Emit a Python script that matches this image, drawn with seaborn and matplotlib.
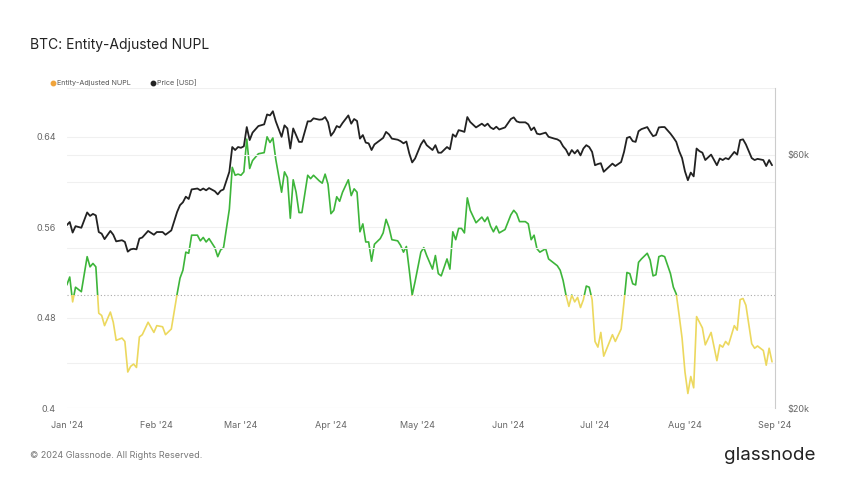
import pandas as pd
import matplotlib.pyplot as plt
import matplotlib.dates as mdates
import matplotlib.transforms as mtransforms
from matplotlib.patches import Rectangle
from matplotlib.lines import Line2D
from matplotlib.ticker import NullLocator
import seaborn as sns

# Datos (dias desde el 1 de enero de 2024)
days = [0, 1, 2, 3, 5, 7, 8, 9, 10, 11, 12, 13, 15, 16, 17, 19, 20, 21, 22, 23,
        24, 25, 26, 28, 30, 31, 33, 34, 36, 38, 39, 40, 41, 42, 43, 45, 46, 47, 48, 49,
        51, 52, 53, 54, 56, 57, 58, 59, 60, 61, 62, 63, 64, 66, 68, 69, 70, 71, 72, 74,
        75, 76, 77, 78, 79, 80, 81, 83, 84, 85, 87, 88, 89, 90, 91, 92, 93, 94, 95, 97,
        98, 99, 100, 101, 102, 103, 104, 105, 106, 108, 109, 110, 111, 112, 114, 115, 116, 117, 118, 119,
        120, 122, 123, 124, 126, 127, 128, 129, 131, 132, 133, 134, 135, 136, 137, 138, 139, 141, 143, 144,
        145, 146, 147, 148, 149, 151, 153, 154, 155, 156, 158, 159, 160, 161, 162, 163, 165, 166, 168, 169,
        170, 171, 172, 173, 174, 175, 176, 177, 178, 179, 180, 181, 182, 183, 184, 185, 188, 189, 191, 192,
        193, 194, 195, 196, 197, 198, 200, 201, 202, 203, 204, 205, 206, 208, 209, 210, 211, 212, 213, 214,
        215, 216, 217, 218, 219, 220, 222, 224, 225, 226, 227, 228, 230, 231, 232, 233, 234, 236, 237, 238,
        240, 241, 242, 243]

nupl = [0.509, 0.516, 0.494, 0.507, 0.503, 0.534, 0.525, 0.528, 0.525, 0.484, 0.482, 0.473, 0.485, 0.476, 0.460, 0.462, 0.459, 0.432, 0.437, 0.439,
        0.436, 0.463, 0.465, 0.476, 0.467, 0.473, 0.472, 0.465, 0.470, 0.501, 0.515, 0.522, 0.538, 0.537, 0.553, 0.553, 0.548, 0.551, 0.547, 0.550,
        0.542, 0.534, 0.540, 0.542, 0.576, 0.613, 0.606, 0.607, 0.606, 0.609, 0.638, 0.612, 0.619, 0.625, 0.626, 0.640, 0.635, 0.639, 0.620, 0.591,
        0.609, 0.604, 0.568, 0.602, 0.591, 0.573, 0.573, 0.606, 0.603, 0.606, 0.601, 0.599, 0.607, 0.598, 0.572, 0.575, 0.587, 0.583, 0.591, 0.602,
        0.588, 0.594, 0.591, 0.556, 0.563, 0.547, 0.547, 0.530, 0.545, 0.550, 0.555, 0.567, 0.560, 0.549, 0.548, 0.544, 0.538, 0.543, 0.522, 0.500,
        0.512, 0.538, 0.542, 0.535, 0.523, 0.535, 0.519, 0.517, 0.532, 0.523, 0.556, 0.549, 0.559, 0.559, 0.555, 0.586, 0.575, 0.564, 0.569, 0.565,
        0.569, 0.561, 0.556, 0.561, 0.555, 0.558, 0.571, 0.575, 0.572, 0.565, 0.565, 0.563, 0.549, 0.553, 0.541, 0.538, 0.541, 0.532, 0.528, 0.526,
        0.522, 0.513, 0.500, 0.490, 0.500, 0.494, 0.498, 0.489, 0.496, 0.508, 0.507, 0.496, 0.459, 0.454, 0.467, 0.446, 0.465, 0.459, 0.470, 0.494,
        0.520, 0.519, 0.510, 0.509, 0.529, 0.532, 0.537, 0.531, 0.517, 0.518, 0.534, 0.535, 0.534, 0.519, 0.507, 0.501, 0.482, 0.462, 0.432, 0.413,
        0.428, 0.418, 0.481, 0.476, 0.471, 0.456, 0.467, 0.442, 0.456, 0.454, 0.459, 0.456, 0.473, 0.469, 0.496, 0.497, 0.491, 0.457, 0.453, 0.455,
        0.451, 0.438, 0.453, 0.441]

# Precio en miles de USD
price_k = [44.2, 44.8, 42.8, 44.0, 43.7, 46.7, 46.0, 46.4, 46.1, 42.9, 42.6, 41.6, 43.1, 42.4, 41.2, 41.4, 41.1, 39.4, 39.8, 39.9,
           39.8, 41.7, 41.9, 43.1, 42.4, 42.9, 42.9, 42.4, 43.2, 46.8, 48.2, 48.8, 50.0, 49.5, 51.6, 51.8, 51.4, 51.8, 51.4, 51.9,
           51.2, 50.5, 51.3, 51.6, 55.7, 62.0, 61.2, 62.0, 61.8, 62.2, 67.6, 63.9, 66.0, 67.9, 68.4, 71.4, 71.1, 72.4, 69.3, 64.8,
           68.1, 67.2, 61.6, 67.2, 65.3, 63.4, 63.4, 69.3, 69.3, 70.2, 69.8, 69.9, 70.6, 69.0, 65.1, 66.2, 67.9, 67.5, 68.8, 71.1,
           68.6, 70.0, 69.4, 64.3, 65.3, 63.2, 63.0, 61.2, 62.7, 63.9, 64.5, 66.2, 65.5, 64.3, 64.0, 63.6, 63.0, 63.5, 60.3, 58.0,
           59.0, 62.7, 63.9, 62.5, 61.2, 62.5, 60.5, 60.5, 62.0, 61.4, 65.5, 64.8, 66.7, 66.5, 66.2, 70.6, 69.1, 67.5, 68.6, 67.9,
           68.6, 67.5, 67.0, 67.7, 66.9, 67.5, 70.0, 70.5, 69.3, 69.0, 69.0, 68.4, 66.7, 67.5, 65.7, 65.5, 66.0, 64.8, 64.3, 64.1,
           63.6, 62.2, 61.3, 59.8, 61.2, 60.3, 61.2, 59.8, 61.6, 62.5, 62.0, 60.7, 57.3, 57.6, 57.8, 55.7, 57.7, 57.1, 58.1, 60.7,
           64.5, 64.8, 63.6, 63.4, 66.4, 67.0, 67.6, 66.2, 65.0, 65.3, 67.5, 67.6, 67.6, 65.7, 64.6, 63.4, 60.9, 59.1, 55.8, 53.7,
           55.5, 54.6, 61.6, 60.9, 60.5, 58.6, 60.0, 57.3, 59.0, 58.6, 59.1, 58.8, 60.7, 60.0, 63.9, 64.1, 62.7, 59.1, 58.6, 58.9,
           58.6, 57.1, 58.6, 57.3]

sns.set_style("white")
plt.rcParams['font.family'] = ['Inter', 'DejaVu Sans']

df = pd.DataFrame({
    "fecha": pd.Timestamp("2024-01-01") + pd.to_timedelta(days, unit="D"),
    "nupl": nupl,
    "precio": [p * 1000 for p in price_k],
})

verde = "#3db53a"
amarillo = "#ecd85e"
gris = "#666666"

fig = plt.figure(figsize=(8.46, 4.9), dpi=100)
ax = fig.add_axes([0.079, 0.167, 0.837, 0.653])
ax2 = ax.twinx()

# NUPL: verde por encima de 0.5, amarillo por debajo
sns.lineplot(data=df, x="fecha", y="nupl", color=verde, linewidth=1.2, ax=ax)
sns.lineplot(data=df, x="fecha", y="nupl", color=amarillo, linewidth=1.2, ax=ax)
trans = mtransforms.blended_transform_factory(ax.transAxes, ax.transData)
ax.lines[0].set_clip_path(Rectangle((0, 0.5), 1, 1, transform=trans))
ax.lines[1].set_clip_path(Rectangle((0, -1), 1, 1.5, transform=trans))
ax.axhline(0.5, color="#aaaaaa", linestyle=(0, (1, 2)), linewidth=0.8, zorder=1)

# Precio en escala log
sns.lineplot(data=df, x="fecha", y="precio", color="#222222", linewidth=1.3, ax=ax2)
ax2.set_yscale("log")
ax2.set_ylim(20000, 80000)
ax2.set_yticks([20000, 40000, 60000, 80000])
ax2.set_yticklabels(["$20k", "", "$60k", ""])
ax2.yaxis.set_minor_locator(NullLocator())
ax2.grid(axis="y", color="#f0f0f0", linewidth=0.8)

ax.set_ylim(0.40, 0.683)
ax.set_yticks([0.40, 0.44, 0.48, 0.52, 0.56, 0.60, 0.64])
ax.set_yticklabels(["0.4", "", "0.48", "", "0.56", "", "0.64"])
ax.grid(axis="y", color="#f0f0f0", linewidth=0.8)
ax.set_axisbelow(True)

ax.set_xlim(pd.Timestamp("2024-01-01"), pd.Timestamp("2024-09-01"))
ax.xaxis.set_major_locator(mdates.MonthLocator())
ax.xaxis.set_major_formatter(mdates.DateFormatter("%b '%y"))

for a in (ax, ax2):
    a.set_xlabel("")
    a.set_ylabel("")
    for s in ("top", "left", "bottom"):
        a.spines[s].set_visible(False)
    a.tick_params(length=0, labelsize=6.5, labelcolor=gris)
ax.spines["right"].set_visible(False)
ax2.spines["right"].set_color("#cccccc")
ax.tick_params(axis="y", pad=8)
ax.tick_params(axis="x", pad=9)
ax2.tick_params(axis="y", pad=9)

# Leyenda
handles = [Line2D([], [], marker="o", linestyle="", color="#f0a43c", markersize=3.2),
           Line2D([], [], marker="o", linestyle="", color="#222222", markersize=3.2)]
fig.legend(handles, ["Entity-Adjusted NUPL", "Price [USD]"], loc="center left",
           bbox_to_anchor=(0.052, 1 - 83 / 490), ncol=2, frameon=False, fontsize=5.2,
           handletextpad=0.15, columnspacing=2.6, handlelength=0.8, labelcolor="#555555")

fig.text(30 / 846, 1 - 45 / 490, "BTC: Entity-Adjusted NUPL", fontsize=10, va="center", color="#222222")
fig.text(30 / 846, 1 - 455 / 490, "\u00a9 2024 Glassnode. All Rights Reserved.", fontsize=6.5,
         va="center", color="#777777")
fig.text(815 / 846, 1 - 455 / 490, "glassnode", fontsize=13.5, ha="right", va="center", color="#222222")

fig.savefig("out.png", dpi=100)
